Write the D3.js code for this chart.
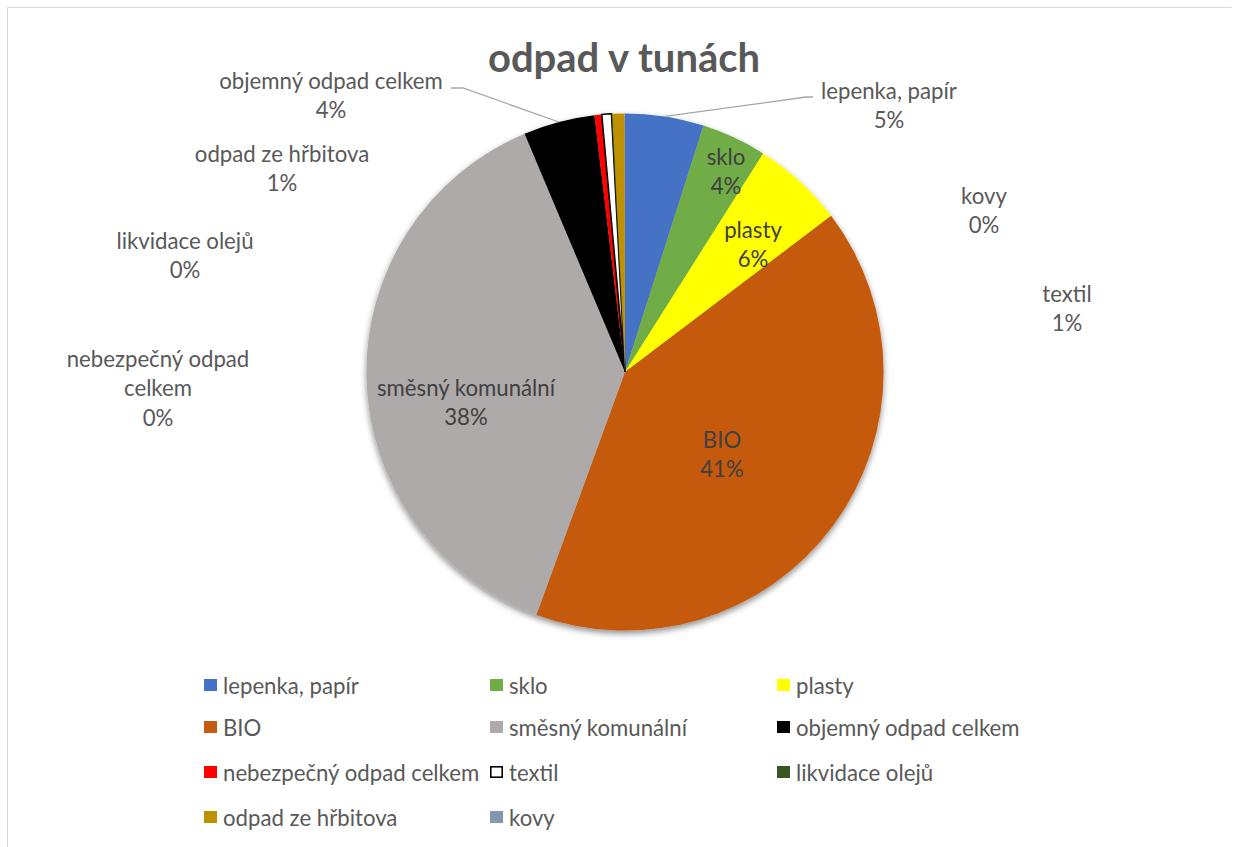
<!DOCTYPE html>
<html>
<head>
<meta charset="utf-8">
<script src="https://cdn.jsdelivr.net/npm/d3@7"></script>
<style>
  html, body { margin: 0; padding: 0; background: #fff; }
  svg { display: block; font-family: Lato, "Open Sans", sans-serif; }
</style>
</head>
<body>
<svg id="chart" width="1239" height="847"></svg>
<script>
// ---- data ----
const title = "odpad v tunách";
const categories = ["lepenka, papír", "sklo", "plasty", "BIO", "směsný komunální",
  "objemný odpad celkem", "nebezpečný odpad celkem", "textil", "likvidace olejů",
  "odpad ze hřbitova", "kovy"];
const values = [4.9, 4.05, 5.7, 40.8, 38.0, 4.45, 0.45, 0.6, 0.06, 0.75, 0.02];
const colors = ["#4472c4", "#70ad47", "#ffff00", "#c55a11", "#aeaaaa", "#000000",
  "#ff0000", "#ffffff", "#375623", "#bf9000", "#8497b0"];

// ---- layout (not data) ----
const W = 1239, H = 847;
const cx = 625, cy = 372, R = 258.6;
const labelLayout = [
  { x: 889, y: 90, inside: false, leader: [[806, 97], [813, 97]] },
  { x: 726, y: 156, inside: true },
  { x: 753, y: 229, inside: true },
  { x: 722, y: 439, inside: true },
  { x: 466, y: 387, inside: true },
  { x: 331, y: 80, inside: false, leader: [[463, 88], [451, 88]] },
  { x: 158, y: 358, inside: false, lines: ["nebezpečný odpad", "celkem"] },
  { x: 1067, y: 293, inside: false },
  { x: 185, y: 240, inside: false },
  { x: 282, y: 153, inside: false },
  { x: 984, y: 195, inside: false }
];
const lineH = 29.5;
const labelSize = 22.2;

const svg = d3.select("#chart");

svg.append("path")
  .attr("d", `M7.5,${H + 5} V7.5 H1231.5`)
  .attr("fill", "none").attr("stroke", "#d9d9d9").attr("stroke-width", 1);

const defs = svg.append("defs");
const f = defs.append("filter").attr("id", "shadow")
  .attr("x", "-10%").attr("y", "-10%").attr("width", "120%").attr("height", "125%");
f.append("feDropShadow").attr("dx", 0).attr("dy", 3).attr("stdDeviation", 3)
  .attr("flood-color", "#000").attr("flood-opacity", 0.45);

svg.append("text")
  .attr("x", 624).attr("y", 57)
  .attr("text-anchor", "middle").attr("dominant-baseline", "central")
  .attr("font-size", 40).attr("font-weight", "bold").attr("fill", "#595959")
  .text(title);

const total = d3.sum(values);
const pie = d3.pie().sort(null).value(d => d)(values);
const arc = d3.arc().innerRadius(0).outerRadius(R);

const g = svg.append("g").attr("transform", `translate(${cx},${cy})`);
const gp = g.append("g").attr("filter", "url(#shadow)");
gp.selectAll("path").data(pie).join("path")
  .attr("d", arc)
  .attr("fill", (d, i) => colors[i])
  .attr("stroke", (d, i) => categories[i] === "textil" ? "#000" : "none")
  .attr("stroke-width", 1.6);

pie.forEach((d, i) => {
  const L = labelLayout[i];
  if (!L.leader) return;
  const mid = (d.startAngle + d.endAngle) / 2;
  const px = cx + R * Math.sin(mid), py = cy - R * Math.cos(mid);
  const pts = [[px, py], ...L.leader];
  svg.append("path")
    .attr("d", d3.line()(pts))
    .attr("fill", "none").attr("stroke", "#a6a6a6").attr("stroke-width", 1.3);
});

pie.forEach((d, i) => {
  const L = labelLayout[i];
  const pct = Math.round(values[i] / total * 100) + "%";
  const lines = (L.lines || [categories[i]]).concat([pct]);
  const t = svg.append("text")
    .attr("text-anchor", "middle")
    .attr("font-size", labelSize)
    .attr("fill", L.inside ? "#404040" : "#595959");
  lines.forEach((s, k) => {
    t.append("tspan").attr("x", L.x).attr("y", L.y + k * lineH)
      .attr("dominant-baseline", "central").text(s);
  });
});

const colX = [204, 490, 777];
const rowY = [685, 727, 772, 817];
const lg = svg.append("g");
categories.forEach((c, i) => {
  const col = i % 3, row = Math.floor(i / 3);
  const x = colX[col], y = rowY[row];
  const isText = c === "textil";
  lg.append("rect")
    .attr("x", x + (isText ? 0.8 : 0)).attr("y", y - 6 + (isText ? 0.8 : 0))
    .attr("width", isText ? 11.4 : 13).attr("height", isText ? 10.4 : 12)
    .attr("fill", colors[i])
    .attr("stroke", isText ? "#000" : "none").attr("stroke-width", 1.6);
  lg.append("text")
    .attr("x", x + 19).attr("y", y)
    .attr("dominant-baseline", "central")
    .attr("font-size", labelSize).attr("fill", "#595959")
    .text(c);
});
</script>
</body>
</html>
